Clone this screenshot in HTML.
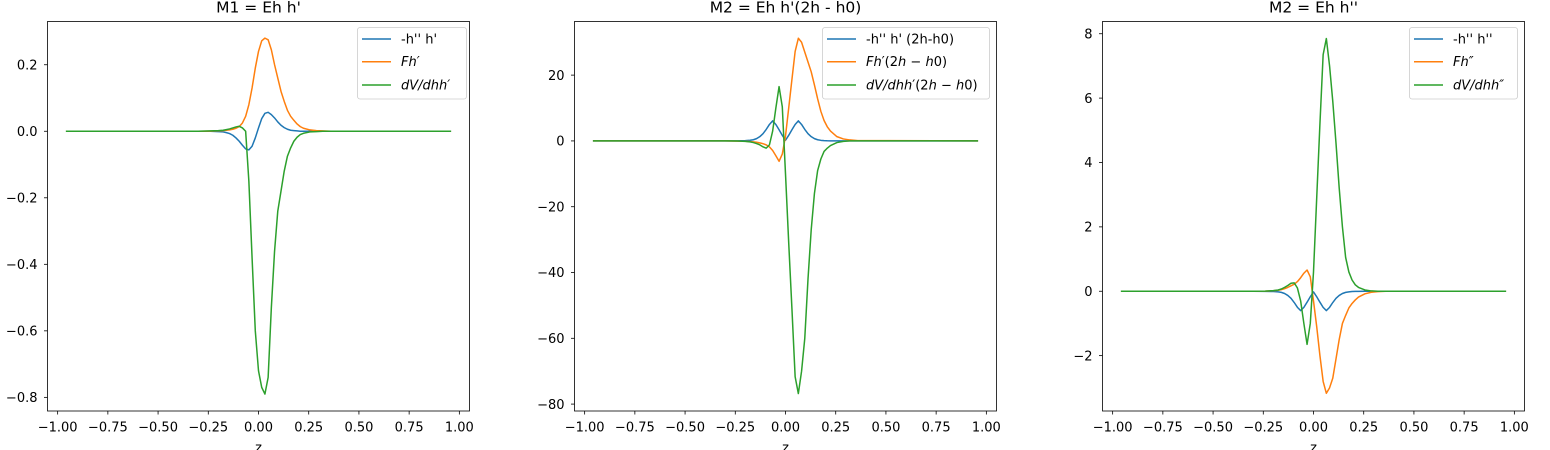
<!DOCTYPE html>
<html>
<head>
<meta charset="utf-8">
<style>
  html,body{margin:0;padding:0;background:#fff;}
  svg{display:block;font-family:"DejaVu Sans","Liberation Sans",sans-serif;}
</style>
</head>
<body>
<svg id="fig" width="1550" height="450" viewBox="0 0 1550 450" xmlns="http://www.w3.org/2000/svg"></svg>
<script>
// shared z grid (x-axis categories)
const zGrid = [-0.955,-0.30,-0.24,-0.20,-0.176,-0.16,-0.144,-0.128,-0.112,-0.096,-0.08,-0.064,-0.048,-0.032,-0.016,0,0.016,0.032,0.048,0.064,0.08,0.096,0.112,0.128,0.144,0.16,0.176,0.192,0.208,0.224,0.256,0.288,0.32,0.36,0.955];
const xTicks = [-1.00,-0.75,-0.50,-0.25,0.00,0.25,0.50,0.75,1.00];
const xTickLabels = ["−1.00","−0.75","−0.50","−0.25","0.00","0.25","0.50","0.75","1.00"];

// Panel 1: M1 = Eh h'
const p1Blue   = [0,0,0,-0.001,-0.002,-0.004,-0.007,-0.012,-0.02,-0.03,-0.042,-0.053,-0.056,-0.045,-0.02,0.01,0.038,0.054,0.057,0.05,0.04,0.028,0.018,0.011,0.006,0.003,0.002,0.001,0,0,0,0,0,0,0];
const p1Orange = [0,0,0.0005,0.001,0.002,0.003,0.004,0.006,0.009,0.014,0.025,0.045,0.08,0.13,0.19,0.24,0.272,0.28,0.275,0.245,0.2,0.16,0.12,0.09,0.063,0.045,0.033,0.022,0.014,0.009,0.004,0.002,0.001,0,0];
const p1Green  = [0,0,0.001,0.002,0.003,0.005,0.007,0.01,0.013,0.015,0.01,0.0,-0.15,-0.38,-0.6,-0.72,-0.77,-0.79,-0.74,-0.53,-0.36,-0.24,-0.18,-0.12,-0.075,-0.05,-0.03,-0.018,-0.01,-0.006,-0.002,-0.001,0,0,0];
const p1YTicks = [0.2,0.0,-0.2,-0.4,-0.6,-0.8];
const p1YLabels = ["0.2","0.0","−0.2","−0.4","−0.6","−0.8"];

// Panel 2: M2 = Eh h'(2h - h0)
const p2Blue   = [0,0,0.02,0.09,0.2,0.35,0.7,1.3,2.2,3.5,5,6.1,5,3.4,1.7,0.2,1.7,3.4,5,6.1,5,3.5,2.2,1.3,0.7,0.35,0.18,0.09,0.04,0.02,0,0,0,0,0];
const p2Orange = [0,0,-0.05,-0.12,-0.2,-0.28,-0.4,-0.6,-0.85,-1.2,-1.8,-2.9,-4.5,-6.2,-4,1.5,10,18.7,27.2,31.2,30,27,24,21,17,12.8,9,6.2,4.3,3,1.3,0.6,0.3,0.1,0];
const p2Green  = [0,0,-0.02,-0.15,-0.3,-0.5,-0.8,-1.2,-1.8,-2.2,-1.2,3,10,16.5,10.4,-10,-31,-51,-71.7,-76.8,-70,-60,-42,-27,-16,-9,-5.5,-3.2,-2.2,-1.4,-0.5,-0.15,0,0,0];
const p2YTicks = [20,0,-20,-40,-60,-80];
const p2YLabels = ["20","0","−20","−40","−60","−80"];

// Panel 3: M2 = Eh h''
const p3Blue   = [0,0,-0.002,-0.009,-0.02,-0.035,-0.07,-0.13,-0.22,-0.35,-0.5,-0.6,-0.5,-0.34,-0.17,-0.02,-0.17,-0.34,-0.5,-0.6,-0.5,-0.35,-0.22,-0.13,-0.07,-0.035,-0.018,-0.009,-0.004,-0.002,0,0,0,0,0];
const p3Orange = [0,0,0.005,0.015,0.03,0.05,0.08,0.12,0.17,0.22,0.3,0.42,0.56,0.66,0.45,-0.3,-1.1,-2,-2.8,-3.17,-3.0,-2.7,-2.1,-1.5,-1.0,-0.75,-0.52,-0.38,-0.27,-0.18,-0.08,-0.03,-0.01,0,0];
const p3Green  = [0,0,0.005,0.02,0.04,0.07,0.12,0.18,0.25,0.26,0.1,-0.3,-1.0,-1.65,-1.0,0.6,2.9,5.2,7.35,7.85,7.0,5.9,4.6,3.2,2.0,1.05,0.6,0.35,0.2,0.12,0.04,0.01,0,0,0];
const p3YTicks = [8,6,4,2,0,-2];
const p3YLabels = ["8","6","4","2","0","−2"];

const NS = "http://www.w3.org/2000/svg";
const svg = document.getElementById('fig');
const C = ["#1f77b4","#ff7f0e","#2ca02c"];

function mk(tag, attrs, parent){
  const e = document.createElementNS(NS, tag);
  for (const k in attrs) e.setAttribute(k, attrs[k]);
  (parent||svg).appendChild(e);
  return e;
}

const panels = [
  {L:47.5, title:"M1 = Eh h'", ymin:-0.841, ymax:0.330, yt:p1YTicks, yl:p1YLabels,
   series:[p1Blue,p1Orange,p1Green], legL:357.5, legW:109,
   leg:[ [["-h'' h'",0]], [["Fh",1],["′",1]], [["dV/dhh",1],["′",1]] ]},
  {L:574.5, title:"M2 = Eh h'(2h - h0)", ymin:-82.1, ymax:36.3, yt:p2YTicks, yl:p2YLabels,
   series:[p2Blue,p2Orange,p2Green], legL:822.5, legW:167,
   leg:[ [["-h'' h' (2h-h0)",0]], [["Fh",1],["′(2",0],["h",1],[" − ",0],["h",1],["0)",0]], [["dV/dhh",1],["′(2",0],["h",1],[" − ",0],["h",1],["0)",0]] ]},
  {L:1102.5, title:"M2 = Eh h''", ymin:-3.72, ymax:8.38, yt:p3YTicks, yl:p3YLabels,
   series:[p3Blue,p3Orange,p3Green], legL:1409.5, legW:108,
   leg:[ [["-h'' h''",0]], [["Fh",1],["″",1]], [["dV/dhh",1],["″",1]] ]}
];
const T = 21.5, B = 411, W = 422, XMIN = -1.0505, XMAX = 1.0505;
const seriesNames = ["series-neg-hpp-hp","series-fh","series-dvdh"];

panels.forEach((p, pi) => {
  const g = mk('g', {});
  
  
  const xs = v => p.L + (v - XMIN) / (XMAX - XMIN) * W;
  const ys = v => B - (v - p.ymin) / (p.ymax - p.ymin) * (B - T);

  // title
  const t = mk('text', {x: p.L + W/2, y: 12.5, 'text-anchor':'middle', 'font-size':'15.5', fill:'#000'}, g);
  t.textContent = p.title;
  
  

  // series
  p.series.forEach((s, si) => {
    const d = s.map((v, i) => (i ? 'L' : 'M') + xs(zGrid[i]).toFixed(2) + ',' + ys(v).toFixed(2)).join(' ');
    const path = mk('path', {d: d, fill:'none', stroke:C[si], 'stroke-width':1.5, 'stroke-linejoin':'round', 'stroke-linecap':'square'}, g);
    
    
  });

  // axes frame
  const fr = mk('rect', {x:p.L, y:T, width:W, height:B-T, fill:'none', stroke:'#000', 'stroke-width':0.8}, g);
  
  

  // x ticks
  xTicks.forEach((v, i) => {
    const x = xs(v);
    const tk = mk('line', {x1:x, x2:x, y1:B, y2:B+3.5, stroke:'#000', 'stroke-width':0.8}, g);
    
    
    const lb = mk('text', {x:x, y:431.5, 'text-anchor':'middle', 'font-size':'13', fill:'#000'}, g);
    lb.textContent = xTickLabels[i];
    
    
  });
  const xl = mk('text', {x:p.L + W/2, y:452, 'text-anchor':'middle', 'font-size':'13', fill:'#000'}, g);
  xl.textContent = 'z';
  
  

  // y ticks
  p.yt.forEach((v, i) => {
    const y = ys(v);
    const tk = mk('line', {x1:p.L-3.5, x2:p.L, y1:y, y2:y, stroke:'#000', 'stroke-width':0.8}, g);
    
    
    const lb = mk('text', {x:p.L-10, y:y+4.7, 'text-anchor':'end', 'font-size':'13', fill:'#000'}, g);
    lb.textContent = p.yl[i];
    
    
  });

  // legend
  const lg = mk('g', {}, g);
  
  
  mk('rect', {x:p.legL, y:27.5, width:p.legW, height:71.5, rx:2.5, fill:'#fff', 'fill-opacity':0.8, stroke:'#cccccc', 'stroke-width':0.8}, lg);
  const rows = [39, 61.7, 85];
  p.leg.forEach((parts, li) => {
    const y = rows[li];
    const ln = mk('line', {x1:p.legL+4.5, x2:p.legL+33.5, y1:y, y2:y, stroke:C[li], 'stroke-width':1.5}, lg);
    
    
    const tx = mk('text', {x:p.legL+43.5, y:y+4.5, 'font-size':'13', fill:'#000'}, lg);
    
    
    parts.forEach(([s, it]) => {
      const sp = mk('tspan', it ? {'font-style':'italic'} : {}, tx);
      sp.textContent = s;
    });
  });
});
</script>
</body>
</html>
